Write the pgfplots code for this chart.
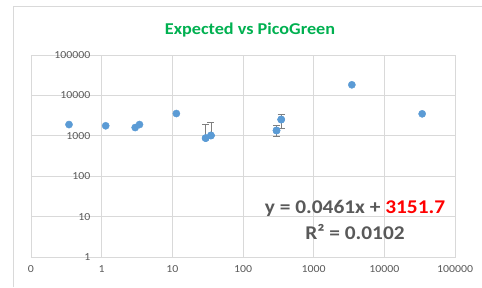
\documentclass[border=0pt]{standalone}
\usepackage{pgfplots}
\pgfplotsset{compat=1.18}
\usepackage{fontspec}
\setmainfont{Carlito}[FakeStretch=1.1]
\definecolor{exblue}{HTML}{5B9BD5}
\definecolor{exgrid}{HTML}{D9D9D9}
\definecolor{extext}{HTML}{595959}
\definecolor{exgreen}{HTML}{00B050}
\definecolor{exerr}{HTML}{7F7F7F}
\begin{document}
\begin{tikzpicture}[x=1bp,y=1bp]
\useasboundingbox (0,0) rectangle (482,287);
\draw[exgrid, line width=0.8bp] (13,0) -- (13,281) -- (482,281);
\begin{axis}[
  at={(31bp,30bp)}, anchor=south west,
  scale only axis, width=424bp, height=202bp,
  xmode=log, ymode=log,
  xmin=0.1, xmax=100000, ymin=1, ymax=100000,
  xtick={0.1,1,10,100,1000,10000,100000},
  xticklabels={0,1,10,100,1000,10000,100000},
  ytick={1,10,100,1000,10000,100000},
  yticklabels={1,10,100,1000,10000,100000},
  xminorticks=false, yminorticks=false,
  major tick length=0pt,
  grid=major,
  major grid style={exgrid, line width=0.7bp},
  axis line style={exgrid, line width=0.7bp},
  tick label style={font=\fontsize{10.8}{12}\selectfont, text=extext},
  /pgf/number format/assume math mode=true,
  xticklabel style={yshift=-5bp},
  yticklabel style={xshift=63bp},
  clip=false,
]
\addplot[only marks, mark=*, mark size=3.6bp, mark options={fill=exblue, draw=exblue},
  error bars/.cd, y dir=both, y explicit,
  error bar style={exerr, line width=0.7bp},
  error mark options={exerr, line width=0.7bp, mark size=3.5bp, rotate=90}]
  coordinates {
  (29.6,877) += (0,1070) -= (0,0)
  (35.2,1017) += (0,1170) -= (0,0)
  (298,1353) += (0,445) -= (0,360)
  (347,2530) += (0,910) -= (0,980)
  };
\addplot[only marks, mark=*, mark size=3.6bp, mark options={fill=exblue, draw=exblue}]
  coordinates {
  (0.345,1900)
  (1.14,1770)
  (2.98,1600)
  (3.43,1900)
  (11.4,3560)
  (29.6,877)
  (35.2,1017)
  (298,1353)
  (347,2530)
  (3470,18300)
  (34300,3500)
  };
\end{axis}
\node[anchor=base, font=\fontsize{16.6}{18}\selectfont\bfseries, text=exgreen] at (250,252.3) {Expected vs PicoGreen};
\node[anchor=base, font=\fontsize{19.5}{22}\selectfont\bfseries, text=extext] at (355,73.7) {y = 0.0461x + \textcolor{red}{3151.7}};
\node[anchor=base, font=\fontsize{19.5}{22}\selectfont\bfseries, text=extext] at (355,47.7) {R² = 0.0102};
\end{tikzpicture}
\end{document}
